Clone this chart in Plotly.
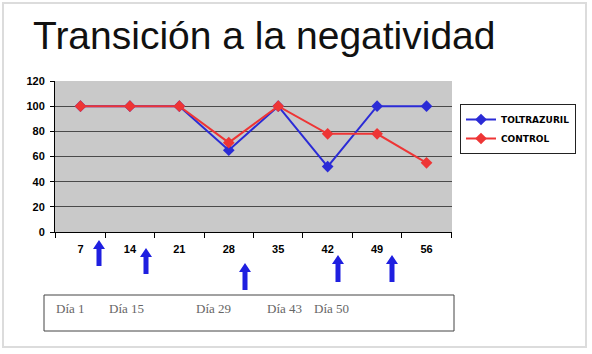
import plotly.graph_objects as go

days = ["7", "14", "21", "28", "35", "42", "49", "56"]
toltrazuril = [100, 100, 100, 65, 100, 52, 100, 100]
control = [100, 100, 100, 71, 100, 78, 78, 55]
box_labels = ["Día 1", "Día 15", "Día 29", "Día 43", "Día 50"]
y_ticks = [0, 20, 40, 60, 80, 100, 120]

W, H = 592, 354
L, R, T, B = 55, 452, 81, 232


def px(x):
    return (x - L) / (R - L)


def py(y):
    return (B - y) / (B - T)


fig = go.Figure()
fig.add_trace(go.Scatter(x=days, y=toltrazuril, name="TOLTRAZURIL", mode="lines+markers",
                         line=dict(color="#2b2bd6", width=2),
                         marker=dict(symbol="diamond", size=9, color="#2b2bd6")))
fig.add_trace(go.Scatter(x=days, y=control, name="CONTROL", mode="lines+markers",
                         line=dict(color="#ee3535", width=2),
                         marker=dict(symbol="diamond", size=9, color="#ee3535")))

shapes = []
# card frame
shapes.append(dict(type="rect", xref="paper", yref="paper", x0=px(3), x1=px(586), y0=py(3), y1=py(347),
                   line=dict(color="#dcdcdc", width=2), layer="below"))
# arrows (tip x, tip y, length)
arrows = [(99, 240, 26), (146, 248, 26), (245, 263, 27), (338, 255, 27), (392, 255, 27)]
for ax_, ay_, ln in arrows:
    pts = [(ax_, ay_), (ax_ + 6, ay_ + 9), (ax_ + 2.5, ay_ + 9), (ax_ + 2.5, ay_ + ln),
           (ax_ - 2.5, ay_ + ln), (ax_ - 2.5, ay_ + 9), (ax_ - 6, ay_ + 9)]
    path = "M " + " L ".join(f"{px(a):.5f},{py(b):.5f}" for a, b in pts) + " Z"
    shapes.append(dict(type="path", xref="paper", yref="paper", path=path,
                       fillcolor="#1f1fe0", line=dict(width=0)))
# text box
shapes.append(dict(type="rect", xref="paper", yref="paper", x0=px(44), x1=px(454), y0=py(295), y1=py(331),
                   line=dict(color="#444444", width=1)))

annotations = [dict(text="Transición a la negatividad", xref="paper", yref="paper",
                    x=px(31), y=py(35), xanchor="left", yanchor="middle", showarrow=False,
                    font=dict(family="Liberation Sans, Arial", size=39, color="#111111"))]
label_x = [54, 107, 194, 265, 312]
for lx, t in zip(label_x, box_labels):
    annotations.append(dict(text=t, xref="paper", yref="paper", x=px(lx), y=py(308),
                            xanchor="left", yanchor="middle", showarrow=False,
                            font=dict(family="Liberation Serif, Times New Roman", size=13, color="#666666")))

fig.update_layout(
    width=W, height=H,
    margin=dict(l=L, r=W - R, t=T, b=H - B),
    paper_bgcolor="white", plot_bgcolor="#c9c9c9",
    shapes=shapes, annotations=annotations,
    legend=dict(x=px(460), y=py(104), xanchor="left", yanchor="top",
                bgcolor="white", bordercolor="#222222", borderwidth=1,
                font=dict(family="DejaVu Sans", size=9, color="black", weight="bold"),
                itemwidth=30),
    xaxis=dict(type="category", tickson="boundaries", ticks="outside", ticklen=5, tickcolor="black",
               showline=True, linecolor="black", linewidth=1, showgrid=False,
               tickfont=dict(family="Liberation Sans, Arial", size=11, color="black", weight="bold"),
               ticklabelstandoff=7, fixedrange=True),
    yaxis=dict(range=[0, 120], tickvals=y_ticks, ticks="outside", ticklen=4, tickcolor="black",
               showline=True, linecolor="black", linewidth=1,
               showgrid=True, gridcolor="#4a4a4a", gridwidth=1, zeroline=False,
               tickfont=dict(family="Liberation Sans, Arial", size=11, color="black", weight="bold"),
               ticklabelstandoff=3, fixedrange=True),
    showlegend=True,
)

fig.write_html("out.html")
